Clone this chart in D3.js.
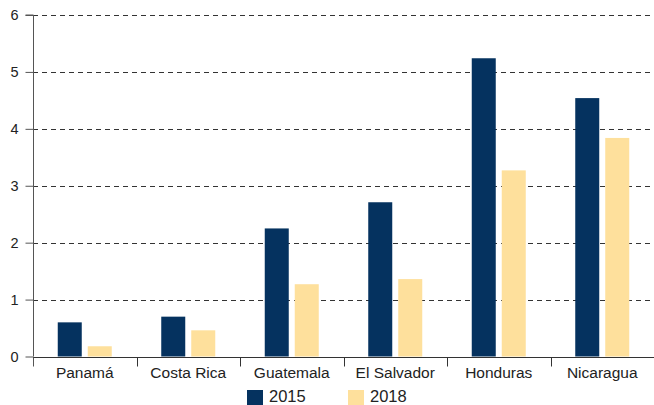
<!DOCTYPE html>
<html><head><meta charset="utf-8">
<script src="https://cdn.jsdelivr.net/npm/d3@7"></script>
<style>body{margin:0;background:#fff}svg{display:block;font-family:"Liberation Sans",Arial,sans-serif}</style>
</head><body>
<svg id="c" width="654" height="405"></svg>
<script>
const categories = ["Panamá","Costa Rica","Guatemala","El Salvador","Honduras","Nicaragua"];
const series = ["2015","2018"];
const values2015 = [0.60,0.70,2.25,2.71,5.24,4.54];
const values2018 = [0.18,0.46,1.27,1.36,3.27,3.84];
const yTicks = [0,1,2,3,4,5,6];
const colors = ["#05325f","#fee09c"];

const svg = d3.select("#c");
const x0 = 33, x1 = 654, yTop = 15, yBot = 356.5;
const x = d3.scaleBand().domain(categories).range([x0,x1]);
const y = d3.scaleLinear().domain([0,6]).range([yBot,yTop]);
const bw = 24, gap = 6;

// gridlines
svg.append("g").selectAll("line").data(yTicks.filter(d=>d>0)).join("line")
  .attr("x1",x0).attr("x2",x1).attr("y1",d=>Math.round(y(d))+0.5).attr("y2",d=>Math.round(y(d))+0.5)
  .attr("stroke","#333").attr("stroke-width",1).attr("stroke-dasharray","5,4");

// bars
const data = categories.map((c,i)=>({c,v:[values2015[i],values2018[i]]}));
const g = svg.append("g");
data.forEach(d=>{
  const cx = x(d.c)+x.bandwidth()/2;
  d.v.forEach((v,j)=>{
    const bx = j===0 ? cx-bw-gap/2 : cx+gap/2;
    g.append("rect").attr("x",bx).attr("width",bw)
      .attr("y",y(v)).attr("height",y(0)-y(v)).attr("fill",colors[j]);
  });
});

// y axis
const ya = svg.append("g").attr("transform",`translate(${x0+0.5},0)`)
  .call(d3.axisLeft(y).tickValues(yTicks).tickSize(8).tickPadding(7).tickFormat(d3.format("d")));
ya.select(".domain").attr("stroke","#555").attr("d",`M-8,${yTop}H0V${yBot}`);
ya.selectAll(".tick line").attr("stroke","#555");
ya.selectAll("text").attr("font-size",14.5).attr("fill","#222").attr("font-family","Liberation Sans, Arial, sans-serif");

// x axis
const xa = svg.append("g").attr("transform",`translate(0,${Math.round(yBot)+0.5})`);
xa.append("line").attr("x1",x0).attr("x2",x1).attr("stroke","#333");
xa.selectAll(".tk").data(categories.slice(1)).join("line")
  .attr("x1",d=>Math.round(x(d))+0.5).attr("x2",d=>Math.round(x(d))+0.5).attr("y1",0).attr("y2",9).attr("stroke","#333");
xa.append("line").attr("x1",x0+0.5).attr("x2",x0+0.5).attr("y1",0).attr("y2",9).attr("stroke","#555");
xa.selectAll(".lb").data(categories).join("text")
  .attr("x",d=>x(d)+x.bandwidth()/2).attr("y",20).attr("text-anchor","middle")
  .attr("font-size",15.5).attr("fill","#222").text(d=>d);

// legend
const leg = svg.append("g");
const lx = [247,348];
series.forEach((s,i)=>{
  leg.append("rect").attr("x",lx[i]).attr("y",390).attr("width",16).attr("height",15).attr("fill",colors[i]);
  leg.append("text").attr("x",lx[i]+22).attr("y",402).attr("font-size",16.5).attr("fill","#222").text(s);
});
</script>
</body></html>
